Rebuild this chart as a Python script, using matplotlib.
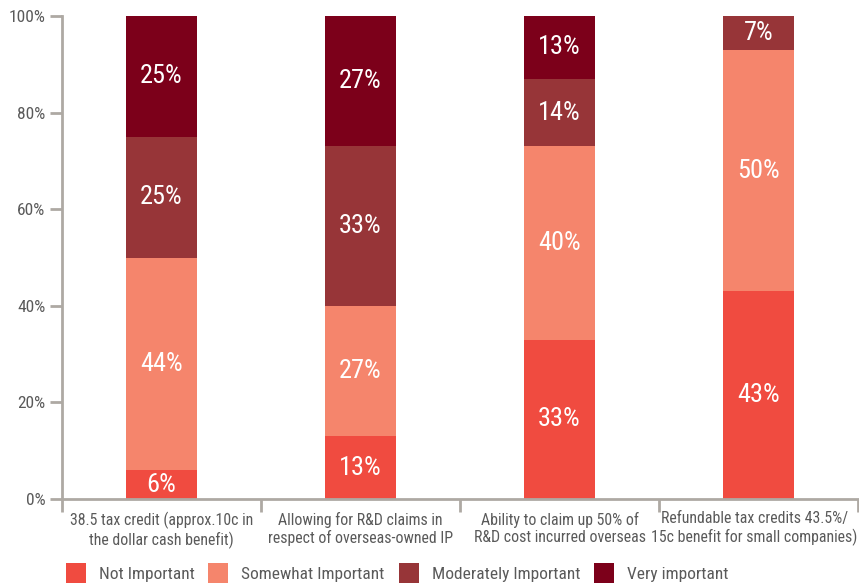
import matplotlib.pyplot as plt
import matplotlib.transforms as mtransforms
from matplotlib import font_manager
import numpy as np

categories = [
    "38.5 tax credit (approx.10c in\nthe dollar cash benefit)",
    "Allowing for R&D claims in\nrespect of overseas-owned IP",
    "Ability to claim up 50% of\nR&D cost incurred overseas",
    "Refundable tax credits 43.5%/\n15c benefit for small companies)",
]
series_names = ["Not Important", "Somewhat Important", "Moderately Important", "Very important"]
not_important = [6, 13, 33, 43]
somewhat_important = [44, 27, 40, 50]
moderately_important = [25, 33, 14, 7]
very_important = [25, 27, 13, 0]
colors = ["#f04b40", "#f5856c", "#973538", "#7c001a"]

# condensed face like the original; fall back if missing
names = {f.name for f in font_manager.fontManager.ttflist}
font = next((n for n in ["Roboto Condensed", "Archivo Narrow", "Barlow Semi Condensed", "Liberation Sans"]
             if n in names), "DejaVu Sans")
plt.rcParams["font.family"] = [font, "DejaVu Sans"]

grey = "#aea9a3"
text_col = "#5a5a5a"

fig = plt.figure(figsize=(8.59, 5.87), dpi=100)
ax = fig.add_axes([62 / 859, 1 - 499 / 587, 796 / 859, 483 / 587])

x = np.arange(len(categories))
bottom = np.zeros(len(categories))
for name, vals, c in zip(series_names,
                         [not_important, somewhat_important, moderately_important, very_important],
                         colors):
    vals = np.array(vals, dtype=float)
    ax.bar(x, vals, 0.36, bottom=bottom, color=c, label=name, zorder=2)
    for xi, b, v in zip(x, bottom, vals):
        if v > 0:
            ax.text(xi, b + v / 2, f"{int(v)}%", ha="center", va="center",
                    color="white", fontsize=19)
    bottom += vals

ax.set_xlim(-0.5, len(categories) - 0.5)
ax.set_ylim(0, 100)
ax.set_yticks(range(0, 101, 20))
ax.set_yticklabels([f"{v}%" for v in range(0, 101, 20)], fontsize=12.5, color=text_col)
ax.tick_params(axis="y", length=9, width=2, color=grey, pad=3)

ax.set_xticks(np.arange(-0.5, len(categories), 1))
ax.set_xticklabels([])
ax.tick_params(axis="x", length=9, width=2, color=grey, direction="out")
ax.set_xticks(x, minor=True)
ax.set_xticklabels(categories, minor=True, fontsize=11.4, color=text_col, linespacing=1.2)
ax.tick_params(axis="x", which="minor", length=0, pad=9)

# nudge the last label so it stays inside the figure
last = ax.get_xticklabels(minor=True)[-1]
last.set_transform(last.get_transform() + mtransforms.ScaledTranslation(-4 / 100, 0, fig.dpi_scale_trans))

for s in ["top", "right"]:
    ax.spines[s].set_visible(False)
for s in ["left", "bottom"]:
    ax.spines[s].set_color(grey)
    ax.spines[s].set_linewidth(2)

fig.legend(loc="lower left", bbox_to_anchor=(50 / 859, -0.02), ncol=4, frameon=False,
           fontsize=12.5, handlelength=1.15, handleheight=1.4, columnspacing=0.8,
           handletextpad=0.75, labelcolor=text_col)

fig.savefig("out.png", dpi=100)
